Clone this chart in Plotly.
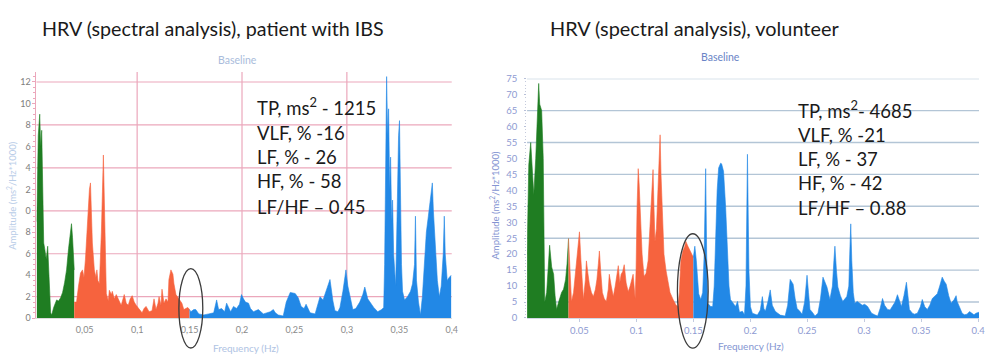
import plotly.graph_objects as go

W, H = 985, 354

# ---------------- spectra: patient with IBS ----------------
ibs_vlf_f = [0.0043, 0.0050, 0.0057, 0.0071, 0.0080, 0.0090, 0.0100, 0.0109, 0.0118, 0.0133,
             0.0147, 0.0156, 0.0166, 0.0175, 0.0185, 0.0204, 0.0232, 0.0251, 0.0270, 0.0289,
             0.0308, 0.0327, 0.0346, 0.0365, 0.0374, 0.0384, 0.0393, 0.0400]
ibs_vlf_a = [9.0, 12.0, 17.0, 19.0, 16.0, 17.5, 13.0, 7.0, 6.5, 5.5,
             6.7, 4.5, 2.0, 0.5, 0.3, 1.0, 1.7, 1.6, 1.9, 2.4,
             3.3, 4.5, 6.5, 8.0, 8.8, 7.5, 6.0, 4.5]

ibs_lf_f = [0.0400, 0.0422, 0.0441, 0.0460, 0.0479, 0.0493, 0.0507, 0.0526, 0.0545, 0.0555,
            0.0564, 0.0573, 0.0592, 0.0607, 0.0616, 0.0626, 0.0640, 0.0659, 0.0678, 0.0687,
            0.0697, 0.0706, 0.0725, 0.0735, 0.0754, 0.0763, 0.0782, 0.0801, 0.0829, 0.0848,
            0.0877, 0.0896, 0.0915, 0.0934, 0.0953, 0.0972, 0.0991, 0.1019, 0.1047, 0.1066,
            0.1085, 0.1114, 0.1142, 0.1161, 0.1180, 0.1199, 0.1209, 0.1227, 0.1237, 0.1256,
            0.1275, 0.1294, 0.1303, 0.1322, 0.1341, 0.1351, 0.1370, 0.1398, 0.1427, 0.1445,
            0.1464, 0.1483, 0.1500]
ibs_lf_a = [1.5, 1.5, 3.0, 4.2, 4.5, 3.8, 5.5, 9.0, 12.0, 12.6,
            10.0, 7.0, 4.5, 3.8, 4.5, 3.5, 3.2, 8.0, 15.2, 11.0,
            5.0, 2.3, 1.6, 2.6, 2.2, 2.5, 1.8, 2.2, 1.6, 1.2,
            2.2, 1.4, 1.2, 1.8, 2.1, 1.5, 1.2, 0.9, 0.5, 0.9,
            1.1, 0.6, 0.7, 1.8, 0.8, 1.4, 2.0, 1.2, 2.7, 1.4,
            1.8, 1.5, 3.6, 4.5, 4.1, 3.2, 2.2, 1.8, 1.4, 0.8,
            0.9, 1.0, 0.8]

ibs_hf_f = [0.1500, 0.1512, 0.1540, 0.1559, 0.1588, 0.1635, 0.1682, 0.1730, 0.1758, 0.1777,
            0.1806, 0.1834, 0.1853, 0.1891, 0.1919, 0.1948, 0.1976, 0.1995, 0.2014, 0.2033,
            0.2062, 0.2081, 0.2109, 0.2156, 0.2204, 0.2232, 0.2270, 0.2299, 0.2318, 0.2346,
            0.2393, 0.2422, 0.2460, 0.2507, 0.2536, 0.2564, 0.2592, 0.2611, 0.2649, 0.2697,
            0.2725, 0.2744, 0.2773, 0.2801, 0.2839, 0.2867, 0.2886, 0.2915, 0.2934, 0.2962,
            0.2991, 0.3009, 0.3028, 0.3057, 0.3085, 0.3123, 0.3152, 0.3171, 0.3199, 0.3218,
            0.3256, 0.3294, 0.3332, 0.3351, 0.3360, 0.3370, 0.3379, 0.3389, 0.3398, 0.3408,
            0.3417, 0.3427, 0.3436, 0.3446, 0.3455, 0.3465, 0.3474, 0.3483, 0.3493, 0.3502,
            0.3512, 0.3521, 0.3531, 0.3550, 0.3578, 0.3607, 0.3626, 0.3645, 0.3654, 0.3664,
            0.3683, 0.3702, 0.3720, 0.3739, 0.3758, 0.3777, 0.3796, 0.3815, 0.3825, 0.3844,
            0.3863, 0.3882, 0.3900, 0.3919, 0.3929, 0.3938, 0.3957, 0.3976, 0.3995]
ibs_hf_a = [0.8, 0.6, 0.8, 0.8, 0.4, 0.3, 0.4, 0.5, 1.7, 0.8,
            0.9, 0.6, 1.4, 0.6, 1.1, 0.9, 1.3, 2.2, 1.8, 1.5,
            1.4, 0.9, 0.6, 0.8, 0.4, 0.5, 0.6, 0.8, 0.5, 0.3,
            0.2, 1.5, 2.4, 2.3, 1.9, 1.1, 0.9, 1.3, 0.5, 0.4,
            1.4, 2.0, 1.7, 2.6, 3.6, 1.6, 0.7, 0.6, 1.0, 2.5,
            4.5, 3.0, 2.0, 0.8, 0.9, 1.5, 2.2, 2.9, 1.8, 1.5,
            1.0, 0.6, 0.8, 1.0, 5.0, 14.0, 22.5, 17.0, 19.5, 12.0,
            15.0, 9.0, 11.0, 6.0, 4.0, 3.0, 7.0, 13.0, 17.0, 18.4,
            10.0, 5.0, 2.5, 1.7, 2.0, 2.5, 3.2, 5.0, 9.5, 3.5,
            1.5, 0.3, 2.0, 5.0, 8.0, 9.5, 11.0, 12.6, 10.0, 6.0,
            3.5, 2.0, 3.0, 6.0, 9.5, 6.0, 3.5, 3.8, 4.0]

# ---------------- spectra: volunteer ----------------
vol_vlf_f = [0.0040, 0.0055, 0.0072, 0.0086, 0.0099, 0.0116, 0.0134, 0.0142, 0.0151, 0.0168,
             0.0182, 0.0190, 0.0195, 0.0212, 0.0229, 0.0238, 0.0256, 0.0273, 0.0286, 0.0299,
             0.0317, 0.0343, 0.0360, 0.0378, 0.0391, 0.0404]
vol_vlf_a = [20.0, 48.0, 55.0, 45.0, 38.6, 50.0, 68.0, 73.5, 67.0, 65.0,
             50.0, 20.0, 5.0, 8.0, 18.0, 22.8, 16.0, 13.7, 7.0, 2.7,
             5.0, 8.0, 9.0, 12.0, 17.0, 24.9]

vol_lf_f = [0.0404, 0.0417, 0.0430, 0.0448, 0.0465, 0.0483, 0.0500, 0.0513, 0.0526, 0.0535,
            0.0552, 0.0561, 0.0574, 0.0587, 0.0605, 0.0622, 0.0640, 0.0653, 0.0666, 0.0675,
            0.0688, 0.0701, 0.0718, 0.0736, 0.0753, 0.0762, 0.0779, 0.0797, 0.0814, 0.0832,
            0.0841, 0.0854, 0.0866, 0.0879, 0.0893, 0.0910, 0.0928, 0.0945, 0.0963, 0.0971,
            0.0989, 0.0997, 0.1006, 0.1016, 0.1024, 0.1037, 0.1050, 0.1067, 0.1085, 0.1103,
            0.1120, 0.1133, 0.1146, 0.1154, 0.1163, 0.1176, 0.1190, 0.1198, 0.1208, 0.1216,
            0.1229, 0.1242, 0.1260, 0.1277, 0.1295, 0.1322, 0.1348, 0.1365, 0.1377, 0.1390,
            0.1408, 0.1425, 0.1434, 0.1452, 0.1460, 0.1478, 0.1495, 0.1500]
vol_lf_a = [24.9, 12.0, 5.2, 8.0, 14.0, 22.0, 27.0, 18.0, 8.0, 5.8,
            12.0, 17.9, 14.0, 10.6, 8.0, 6.7, 9.0, 12.0, 17.0, 21.0,
            14.0, 8.0, 6.0, 5.2, 9.0, 13.7, 10.0, 6.7, 10.0, 14.0,
            16.4, 11.0, 13.7, 14.5, 16.7, 11.0, 8.2, 10.0, 12.8, 13.7,
            6.0, 15.0, 35.0, 46.8, 42.0, 30.0, 20.0, 13.0, 14.0, 18.0,
            30.0, 40.0, 46.5, 35.0, 24.0, 28.0, 40.0, 50.0, 57.4, 45.0,
            30.0, 20.0, 14.9, 11.0, 8.0, 5.8, 4.0, 3.6, 8.0, 17.9,
            21.0, 22.5, 24.0, 22.5, 21.9, 20.5, 19.7, 19.0]

vol_hf_f = [0.1500, 0.1513, 0.1526, 0.1539, 0.1547, 0.1565, 0.1582, 0.1595, 0.1608, 0.1617,
            0.1626, 0.1652, 0.1670, 0.1683, 0.1696, 0.1709, 0.1722, 0.1739, 0.1748, 0.1765,
            0.1783, 0.1800, 0.1813, 0.1826, 0.1853, 0.1870, 0.1888, 0.1905, 0.1931, 0.1949,
            0.1962, 0.1975, 0.1988, 0.2001, 0.2018, 0.2045, 0.2062, 0.2088, 0.2106, 0.2119,
            0.2132, 0.2154, 0.2175, 0.2193, 0.2219, 0.2241, 0.2263, 0.2306, 0.2328, 0.2350,
            0.2376, 0.2394, 0.2411, 0.2437, 0.2455, 0.2477, 0.2498, 0.2511, 0.2524, 0.2551,
            0.2568, 0.2594, 0.2616, 0.2638, 0.2655, 0.2673, 0.2699, 0.2721, 0.2734, 0.2743,
            0.2756, 0.2769, 0.2791, 0.2812, 0.2847, 0.2865, 0.2873, 0.2882, 0.2891, 0.2904,
            0.2917, 0.2939, 0.2961, 0.2983, 0.3004, 0.3030, 0.3048, 0.3065, 0.3092, 0.3118,
            0.3140, 0.3161, 0.3179, 0.3205, 0.3227, 0.3249, 0.3271, 0.3292, 0.3310, 0.3327,
            0.3349, 0.3371, 0.3384, 0.3397, 0.3423, 0.3441, 0.3467, 0.3493, 0.3510, 0.3532,
            0.3554, 0.3576, 0.3598, 0.3620, 0.3642, 0.3663, 0.3685, 0.3703, 0.3720, 0.3742,
            0.3763, 0.3790, 0.3807, 0.3816, 0.3838, 0.3860, 0.3881, 0.3903, 0.3925, 0.3947,
            0.3964, 0.3982, 0.4008]
vol_hf_a = [19.0, 22.5, 18.0, 10.6, 7.6, 5.8, 8.0, 20.0, 46.8, 20.0,
            4.6, 3.6, 3.6, 10.0, 28.0, 40.0, 47.0, 48.5, 48.3, 46.0,
            35.0, 22.8, 10.0, 5.8, 4.6, 3.6, 5.2, 1.8, 2.1, 1.0,
            10.0, 51.3, 15.0, 3.6, 1.5, 1.0, 0.9, 2.5, 6.7, 3.0,
            2.1, 5.0, 8.8, 4.0, 2.1, 1.5, 0.9, 0.6, 4.0, 12.1,
            10.6, 6.0, 3.0, 2.0, 1.2, 5.0, 13.4, 8.0, 2.7, 1.5,
            0.6, 1.5, 6.0, 12.8, 11.0, 9.7, 5.8, 10.0, 18.0, 22.5,
            15.0, 9.7, 7.0, 5.2, 6.7, 10.0, 20.0, 29.5, 18.0, 8.0,
            4.6, 5.2, 4.6, 4.0, 4.3, 3.6, 2.5, 1.5, 1.0, 0.6,
            3.0, 6.1, 4.0, 2.7, 2.5, 3.6, 5.0, 7.3, 5.0, 3.6,
            7.0, 11.2, 7.0, 2.7, 1.5, 1.2, 1.5, 3.5, 5.8, 3.5,
            2.7, 4.0, 6.1, 6.8, 7.6, 10.0, 12.8, 11.5, 10.6, 7.0,
            4.6, 5.8, 7.0, 5.2, 3.0, 1.5, 1.0, 1.2, 2.0, 1.5,
            1.0, 1.5, 1.8]

# axis ticks
ibs_xticks = [0.05, 0.10, 0.15, 0.20, 0.25, 0.30, 0.35, 0.40]
ibs_xlabels = ["0,05", "0,1", "0,15", "0,2", "0,25", "0,3", "0,35", "0,4"]
ibs_yticks = [0, 2, 4, 6, 8, 10, 12, 14, 16, 18, 20, 22]
ibs_ylabels = ["0", "2", "4", "6", "8", "0", "2", "4", "6", "8", "10", "12"]
ibs_ygrid = [2, 6, 10, 14, 18, 22]
ibs_xgrid = [0.1, 0.2, 0.3]

vol_xticks = [0.05, 0.10, 0.15, 0.20, 0.25, 0.30, 0.35, 0.40]
vol_xlabels = ["0.05", "0.1", "0.15", "0.2", "0.25", "0.3", "0.35", "0.4"]
vol_yticks = [0, 5, 10, 15, 20, 25, 30, 35, 40, 45, 50, 55, 60, 65, 70, 75]
vol_ygrid = [5, 15, 25, 35, 45, 55, 65, 75]

LF_HF_EDGE = 0.15

ibs_stats = ["TP, ms<sup>2</sup> - 1215", "VLF, % -16", "LF, % - 26", "HF, % - 58", "LF/HF \u2013 0.45"]
vol_stats = ["TP, ms<sup>2</sup>- 4685", "VLF, % -21", "LF, % - 37", "HF, % - 42", "LF/HF \u2013 0.88"]

VLF_C, LF_C, HF_C = "#1f7d22", "#f6633e", "#2288e6"
TXT = "Lato, Open Sans, sans-serif"


def px(x):
    return x / W


def py(y):
    return 1 - y / H


IBS_X = (0.004, 0.400)
IBS_Y = (0, 22.94)
VOL_X = (0.004, 0.4008)
VOL_Y = (0, 75)

fig = go.Figure()

for f, a, c in [(ibs_vlf_f, ibs_vlf_a, VLF_C), (ibs_lf_f, ibs_lf_a, LF_C), (ibs_hf_f, ibs_hf_a, HF_C)]:
    fig.add_trace(go.Scatter(x=f, y=a, mode="lines", fill="tozeroy", fillcolor=c,
                             line=dict(color=c, width=0.6), xaxis="x", yaxis="y",
                             hoverinfo="skip", showlegend=False))
for f, a, c in [(vol_vlf_f, vol_vlf_a, VLF_C), (vol_lf_f, vol_lf_a, LF_C), (vol_hf_f, vol_hf_a, HF_C)]:
    fig.add_trace(go.Scatter(x=f, y=a, mode="lines", fill="tozeroy", fillcolor=c,
                             line=dict(color=c, width=0.6), xaxis="x2", yaxis="y2",
                             hoverinfo="skip", showlegend=False))

PINK = "#eba7bb"
BLUEGRID = "#b3c5d6"

shapes = []
for g in ibs_ygrid:
    shapes.append(dict(type="line", xref="x domain", yref="y", x0=0, x1=1, y0=g, y1=g,
                       line=dict(color=PINK, width=1.2), layer="below"))
for g in ibs_xgrid:
    shapes.append(dict(type="line", xref="x", yref="y domain", x0=g, x1=g, y0=0, y1=1,
                       line=dict(color=PINK, width=1.2), layer="below"))
for g in vol_ygrid:
    shapes.append(dict(type="line", xref="x2 domain", yref="y2", x0=0, x1=1, y0=g, y1=g,
                       line=dict(color=BLUEGRID, width=1.4), layer="below"))


def dom(v, rng):
    return (v - rng[0]) / (rng[1] - rng[0])


# ellipses marking the LF / HF boundary
shapes.append(dict(type="circle", xref="x domain", yref="y domain",
                   x0=dom(LF_HF_EDGE + 0.0012 - 0.0114, IBS_X), x1=dom(LF_HF_EDGE + 0.0012 + 0.0114, IBS_X),
                   y0=-0.121, y1=0.201, line=dict(color="#3c3c3c", width=1.3)))
shapes.append(dict(type="circle", xref="x2 domain", yref="y2 domain",
                   x0=dom(LF_HF_EDGE - 0.0005 - 0.0135, VOL_X), x1=dom(LF_HF_EDGE - 0.0005 + 0.0135, VOL_X),
                   y0=-0.1255, y1=0.352, line=dict(color="#3c3c3c", width=1.3)))

ann = []
ann.append(dict(text="HRV (spectral analysis), patient with IBS", x=px(40), y=py(23), xanchor="left",
                font=dict(family=TXT, size=19.7, color="#1a1a1a")))
ann.append(dict(text="HRV (spectral analysis), volunteer", x=px(551), y=py(23), xanchor="left",
                font=dict(family=TXT, size=19.9, color="#1a1a1a")))
ann.append(dict(text="Baseline", x=px(239), y=py(56), font=dict(family=TXT, size=10.5, color="#a9bcdb")))
ann.append(dict(text="Baseline", x=px(725), y=py(53), font=dict(family=TXT, size=10.5, color="#6a84c6")))
ann.append(dict(text="Frequency (Hz)", x=px(248), y=py(353), font=dict(family=TXT, size=10, color="#afc3e3")))
ann.append(dict(text="Frequency (Hz)", x=px(756), y=py(351), font=dict(family=TXT, size=10, color="#8596d2")))
ann.append(dict(text="Amplitude (ms<sup>2</sup>/Hz*1000)", x=px(12), y=py(195), textangle=-90,
                font=dict(family=TXT, size=9.5, color="#b9cde8")))
ann.append(dict(text="Amplitude (ms<sup>2</sup>/Hz*1000)", x=px(498), y=py(205), textangle=-90,
                font=dict(family=TXT, size=9.5, color="#8494d2")))

for i, t in enumerate(ibs_stats):
    ann.append(dict(text=t, x=px(257), y=py([104, 131, 156, 181, 207][i]), xanchor="left",
                    font=dict(family=TXT, size=18.5, color="#1a1a1a")))
for i, t in enumerate(vol_stats):
    ann.append(dict(text=t, x=px(801), y=py([107, 133, 158, 183, 208][i]), xanchor="left",
                    font=dict(family=TXT, size=18.5, color="#1a1a1a")))
for a in ann:
    a.update(xref="paper", yref="paper", showarrow=False, yanchor="middle")
    a.setdefault("xanchor", "center")

fig.update_layout(
    width=W, height=H, margin=dict(l=0, r=0, t=0, b=0),
    paper_bgcolor="white", plot_bgcolor="white",
    shapes=shapes, annotations=ann,
    xaxis=dict(domain=[px(36.7), px(454.5)], range=IBS_X, anchor="y",
               tickvals=ibs_xticks, ticktext=ibs_xlabels, ticks="", showgrid=False, zeroline=False,
               showline=True, linecolor="#dcdcdc", linewidth=1, ticklabelstandoff=3,
               tickfont=dict(family=TXT, size=9, color="#8a8a8a")),
    yaxis=dict(domain=[py(322.2), py(68)], range=IBS_Y, anchor="x",
               tickvals=ibs_yticks, ticktext=ibs_ylabels, ticks="outside", ticklen=3, tickcolor=PINK,
               showgrid=False, zeroline=False, showline=True, linecolor=PINK, linewidth=1,
               minor=dict(dtick=0.5, ticks="outside", ticklen=2, tickcolor=PINK, showgrid=False),
               tickfont=dict(family=TXT, size=9, color="#7d7d7d")),
    xaxis2=dict(domain=[px(530.3), 1.0], range=VOL_X, anchor="y2",
                tickvals=vol_xticks, ticktext=vol_xlabels, ticks="outside", ticklen=3, tickcolor="#c3cbe0",
                showgrid=False, zeroline=False, showline=True, linecolor="#d2d8e6", linewidth=1,
                ticklabelstandoff=1, ticklabeloverflow="allow",
                tickfont=dict(family=TXT, size=9.5, color="#8e9ad2")),
    yaxis2=dict(domain=[py(322), py(75)], range=VOL_Y, anchor="x2",
                tickvals=vol_yticks, ticks="outside", ticklen=2, tickcolor="#b8c0d8",
                showgrid=False, zeroline=False, showline=False, ticklabelstandoff=5,
                minor=dict(dtick=1, ticks="outside", ticklen=1, tickcolor="#c4cadc", showgrid=False),
                tickfont=dict(family=TXT, size=9.5, color="#8e9ad2")),
)

fig.write_html("out.html")
